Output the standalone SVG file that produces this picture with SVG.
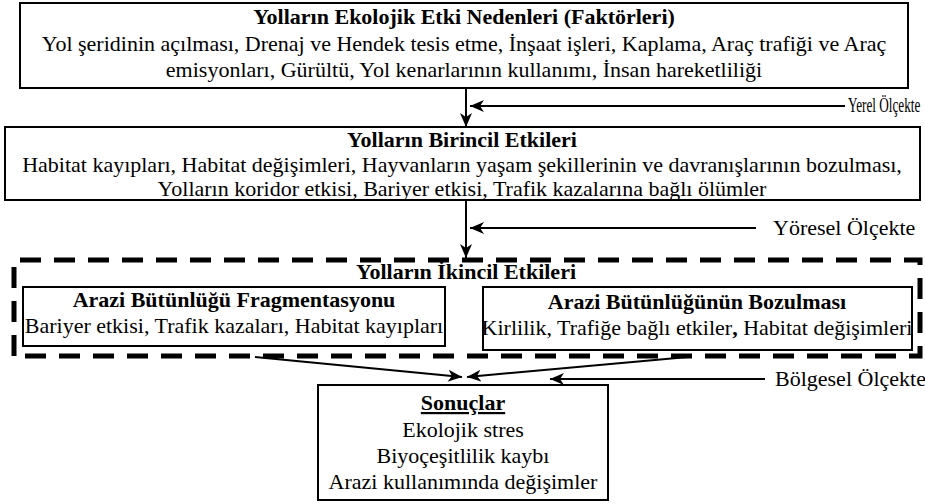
<svg xmlns="http://www.w3.org/2000/svg" width="925" height="504" viewBox="0 0 925 504">
<defs>
<style>
text{font-family:'Liberation Serif','Times New Roman',serif;font-size:22px;fill:#000;text-anchor:middle}
.b{font-weight:bold}
.lab{text-anchor:start}
.box{fill:#fff;stroke:#000;stroke-width:2}
.dash{fill:none;stroke:#000;stroke-width:5;stroke-dasharray:21 13}
.con{fill:none;stroke:#000;stroke-width:2;marker-end:url(#ah)}
</style>
<marker id="ah" viewBox="0 0 14 12" refX="14" refY="6" markerWidth="14" markerHeight="12" markerUnits="userSpaceOnUse" orient="auto">
<path d="M0,0 L14,6 L0,12 L4,6 Z" fill="#000"/>
</marker>
</defs>
<rect width="925" height="504" fill="#fff"/>

<g id="secondary-group">
<path class="dash" d="M14,356 L14,260 L920,260 L920,356 Z"/>
<text class="b" x="466" y="279">Yolların İkincil Etkileri</text>
</g>

<g id="causes">
<rect class="box" x="20" y="3" width="888" height="85"/>
<text class="b" x="464" y="24">Yolların Ekolojik Etki Nedenleri (Faktörleri)</text>
<text x="464" y="51">Yol şeridinin açılması, Drenaj ve Hendek tesis etme, İnşaat işleri, Kaplama, Araç trafiği ve Araç</text>
<text x="464" y="77">emisyonları, Gürültü, Yol kenarlarının kullanımı, İnsan hareketliliği</text>
</g>

<g id="primary">
<rect class="box" x="5" y="127" width="915" height="73"/>
<text class="b" x="462" y="147">Yolların Birincil Etkileri</text>
<text x="462" y="172">Habitat kayıpları, Habitat değişimleri, Hayvanların yaşam şekillerinin ve davranışlarının bozulması,</text>
<text x="462" y="196">Yolların koridor etkisi, Bariyer etkisi, Trafik kazalarına bağlı ölümler</text>
</g>

<g id="fragmentation">
<rect class="box" x="23" y="287" width="422" height="59"/>
<text class="b" x="234" y="307">Arazi Bütünlüğü Fragmentasyonu</text>
<text x="234" y="333">Bariyer etkisi, Trafik kazaları, Habitat kayıpları</text>
</g>

<g id="degradation">
<rect class="box" x="483" y="287" width="429" height="63"/>
<text class="b" x="697" y="309">Arazi Bütünlüğünün Bozulması</text>
<text x="697" y="335">Kirlilik, Trafiğe bağlı etkiler<tspan class="b">,</tspan> Habitat değişimleri</text>
</g>

<g id="results">
<rect class="box" x="318" y="385" width="290" height="115"/>
<text class="b" x="463" y="410" text-decoration="underline">Sonuçlar</text>
<text x="463" y="437">Ekolojik stres</text>
<text x="463" y="463">Biyoçeşitlilik kaybı</text>
<text x="463" y="489">Arazi kullanımında değişimler</text>
</g>

<g id="scale-labels">
<text class="lab" x="0" y="0" transform="translate(848,112) scale(0.6,1)">Yerel Ölçekte</text>
<text class="lab" x="773" y="235">Yöresel  Ölçekte</text>
<text class="lab" x="775" y="386">Bölgesel Ölçekte</text>
</g>

<g id="connectors">
<line class="con" x1="466" y1="88" x2="466" y2="127"/>
<line class="con" x1="845" y1="106" x2="470" y2="106"/>
<line class="con" x1="466" y1="200" x2="466" y2="258"/>
<line class="con" x1="756" y1="228" x2="470" y2="228"/>
<line class="con" x1="255" y1="357" x2="462" y2="377"/>
<line class="con" x1="688" y1="357" x2="467" y2="377"/>
<line class="con" x1="765" y1="379" x2="550" y2="379"/>
</g>
</svg>
